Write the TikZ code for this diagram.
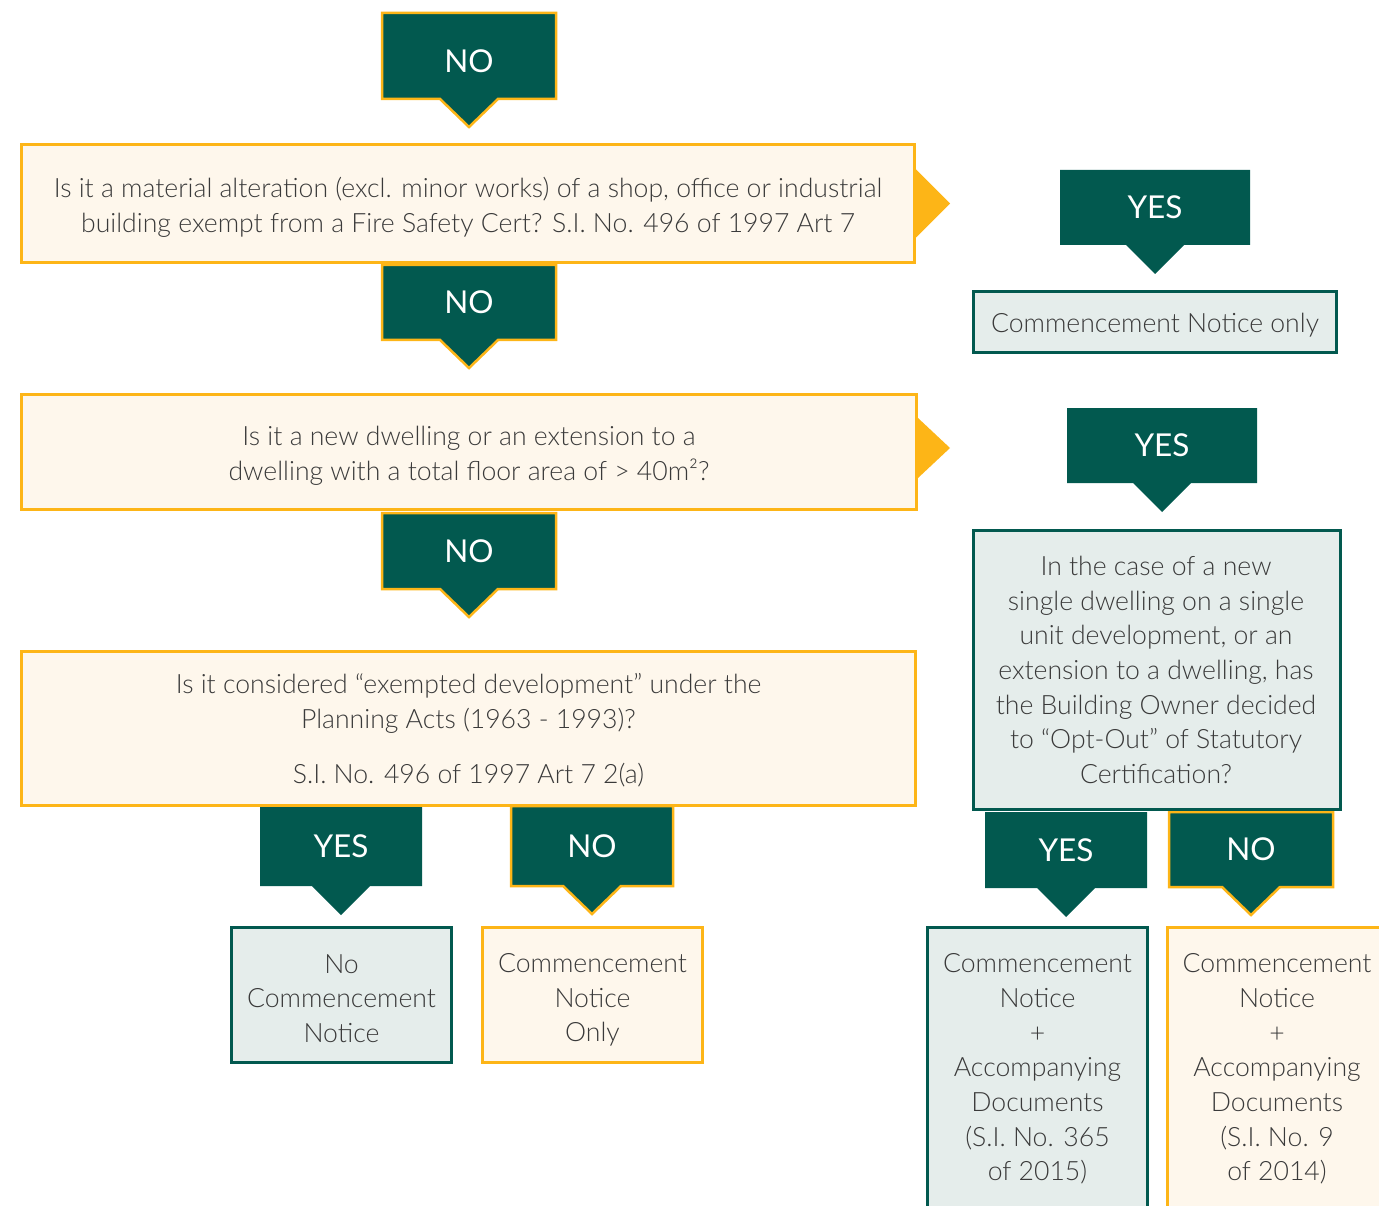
\documentclass[tikz,border=0pt]{standalone}
\usepackage{fontspec}
\setmainfont{Lato}[UprightFont=* Light]
\newfontfamily\tagfont{Lato}
\usetikzlibrary{backgrounds,calc}
\definecolor{dkg}{HTML}{02594F}
\definecolor{ylw}{HTML}{FDB517}
\definecolor{cream}{HTML}{FEF7EC}
\definecolor{pale}{HTML}{E5EDEB}
\definecolor{txt}{HTML}{3A3A3A}
\begin{document}
\begin{tikzpicture}[x=1pt,y=-1pt,
  every node/.style={inner sep=0pt, outer sep=0pt},
  body/.style={font=\fontsize{26.6}{34.7}\selectfont, text=txt, align=center},
  qbox/.style={draw=ylw, line width=3pt, fill=cream},
  gbox/.style={draw=dkg, line width=3pt, fill=pale},
  sz/.style 2 args={minimum width=#1, minimum height=#2},
  tag/.style={text=white, font=\tagfont\fontsize{31.5}{36}\selectfont},
  tagline/.style={draw=ylw, line width=2.5pt, fill=dkg, line join=miter},
  tagfill/.style={fill=dkg}
]
\useasboundingbox (0,0) rectangle (1379,1206);
\clip (0,0) rectangle (1379,1206);

% question boxes
\node[qbox, sz={893}{118}] (q1) at (468,203.5) {};
\node[body] (q1t) at ($(q1.center)+(0,4)$) {Is it a material alteration (excl. minor works) of a shop, office or industrial\\building exempt from a Fire Safety Cert? S.I. No. 496 of 1997 Art 7};
\node[qbox, sz={895}{115}] (q2) at (469,452) {};
\node[body] (q2t) at ($(q2.center)+(0,3.5)$) {Is it a new dwelling or an extension to a\\dwelling with a total floor area of > 40m²?};
\node[qbox, sz={894}{154}] (q3) at (468.5,728.5) {};
\node[body] (q3t) at ($(q3.center)+(0,2)$) {Is it considered “exempted development” under the\\Planning Acts (1963 - 1993)?\\[21pt]S.I. No. 496 of 1997 Art 7 2(a)};

% outcome boxes
\node[gbox, sz={363}{61}] (cnonly) at (1155,322) {};
\node[body] (cnonlyt) at ($(cnonly.center)+(0,3.5)$) {Commencement Notice only};
\node[gbox, sz={367}{279}] (optout) at (1157,670) {};
\node[body] (optoutt) at ($(optout.center)+(-1,0)$) {In the case of a new\\single dwelling on a single\\unit development, or an\\extension to a dwelling, has\\the Building Owner decided\\to “Opt-Out” of Statutory\\Certification?};
\node[gbox, sz={220}{135}] (nocn) at (341.5,995) {};
\node[body] (nocnt) at ($(nocn.center)+(0,3.5)$) {No\\Commencement\\Notice};
\node[qbox, sz={220}{135}] (cnonly2) at (592.5,995) {};
\node[body] (cnonly2t) at ($(cnonly2.center)+(0,5)$) {Commencement\\Notice\\Only};
\node[gbox, sz={220}{287}] (cnad1) at (1037.5,1071) {};
\node[body] (cnad1t) at ($(cnad1.center)+(0,-2)$) {Commencement\\Notice\\+\\Accompanying\\Documents\\(S.I. No. 365\\of 2015)};
\node[qbox, sz={220}{287}] (cnad2) at (1277,1071) {};
\node[body] (cnad2t) at ($(cnad2.center)+(0,-2)$) {Commencement\\Notice\\+\\Accompanying\\Documents\\(S.I. No. 9\\of 2014)};

% side pointers
\fill[ylw] ($(q1.east)+(1.5,-34)$) -- ($(q1.east)+(35.5,0)$) -- ($(q1.east)+(1.5,34)$) -- cycle;
\fill[ylw] ($(q2.east)+(1.5,-34)$) -- ($(q2.east)+(33.5,-4)$) -- ($(q2.east)+(1.5,26)$) -- cycle;

% tags
\node[tag, sz={174}{86}, text height=34pt, text depth=0pt] (no1) at (469,56) {NO};
\node[tag, sz={174}{75}] (no2) at (469,302.5) {NO};
\node[tag, sz={174}{76}] (no3) at (469,551) {NO};
\node[tag, sz={190}{75}] (yes1) at (1155,207.5) {YES};
\node[tag, sz={190}{75}] (yes2) at (1162,445.5) {YES};
\node[tag, sz={162}{80}] (yes3) at (341,846) {YES};
\node[tag, sz={162}{80}] (no4) at (592,846) {NO};
\node[tag, sz={162}{76}] (yes4) at (1066,850) {YES};
\node[tag, sz={164}{75}] (no5) at (1251,849.5) {NO};

\begin{pgfonlayer}{background}
\foreach \n in {no1,no2,no3,no4,no5}{
  \draw[tagline] (\n.north west) -- (\n.north east) -- (\n.south east) -- ($(\n.south)+(29,0)$) -- ($(\n.south)+(0,28)$) -- ($(\n.south)+(-29,0)$) -- (\n.south west) -- cycle;
}
\foreach \n in {yes1,yes2,yes3,yes4}{
  \fill[tagfill] (\n.north west) -- (\n.north east) -- (\n.south east) -- ($(\n.south)+(29,0)$) -- ($(\n.south)+(0,29)$) -- ($(\n.south)+(-29,0)$) -- (\n.south west) -- cycle;
}
\end{pgfonlayer}
\end{tikzpicture}
\end{document}
